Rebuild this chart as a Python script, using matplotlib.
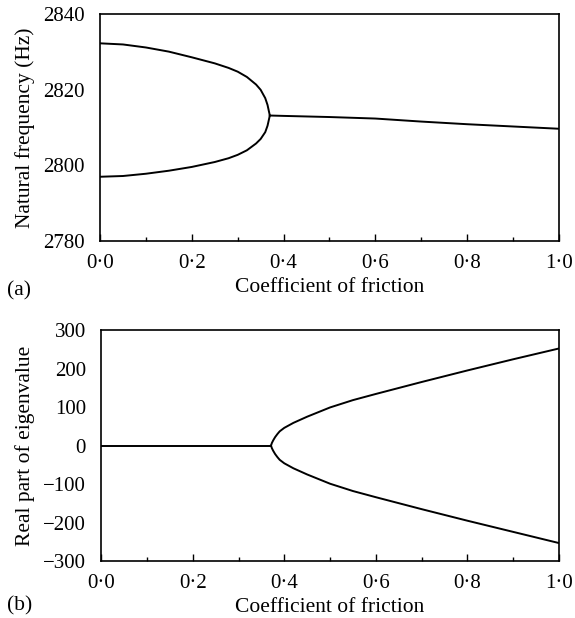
import numpy as np
import matplotlib
matplotlib.use('Agg')
import matplotlib.pyplot as plt
from matplotlib.ticker import MultipleLocator, FuncFormatter

plt.rcParams['font.family'] = ['Liberation Serif', 'DejaVu Serif']

# (a) natural frequency branches
mu_split = [0.0, 0.05, 0.1, 0.15, 0.2, 0.25, 0.28, 0.3, 0.32, 0.34, 0.35, 0.36, 0.365, 0.37]
freq_upper = [2832.3, 2832.0, 2831.2, 2830.1, 2828.6, 2827.0, 2825.8, 2824.8, 2823.4, 2821.4, 2820.0, 2817.8, 2816.0, 2813.2]
freq_lower = [2797.0, 2797.2, 2797.8, 2798.6, 2799.6, 2800.9, 2801.9, 2802.8, 2804.0, 2805.8, 2807.0, 2808.8, 2810.5, 2813.2]
mu_merged = [0.37, 0.4, 0.5, 0.6, 0.7, 0.8, 0.9, 1.0]
freq_merged = [2813.2, 2813.1, 2812.8, 2812.4, 2811.6, 2810.9, 2810.3, 2809.7]

# (b) real part of eigenvalue
mu_zero = [0.0, 0.2, 0.371]
re_zero = [0, 0, 0]
mu_unstable = [0.371, 0.373, 0.376, 0.38, 0.385, 0.39, 0.4, 0.42, 0.45, 0.5, 0.55, 0.6, 0.7, 0.8, 0.9, 1.0]
re_upper = [0, 7, 14, 22, 30, 37, 46, 59, 75, 99, 118, 134, 165, 195, 224, 252]
re_lower = [0, -7, -14, -22, -30, -37, -46, -59, -75, -99, -118, -134, -165, -195, -224, -253]

fig = plt.figure(figsize=(5.75, 6.18), dpi=100)
ax1 = fig.add_axes([0.174, 0.610, 0.798, 0.367])
ax2 = fig.add_axes([0.176, 0.092, 0.796, 0.374])

dotfmt = FuncFormatter(lambda v, p: ('%.1f' % v).replace('.', '\u00b7'))

ax1.plot(mu_split, freq_upper, color='black', lw=1.4)
ax1.plot(mu_split, freq_lower, color='black', lw=1.4)
ax1.plot(mu_merged, freq_merged, color='black', lw=1.4)
ax1.set_xlim(0, 1)
ax1.set_ylim(2780, 2840)
ax1.set_yticks([2780, 2800, 2820, 2840])
ax1.set_ylabel('Natural frequency (Hz)', fontsize=15.5)
ax1.set_xlabel('Coefficient of friction', fontsize=15.5)

ax2.plot(mu_zero, re_zero, color='black', lw=1.4)
ax2.plot(mu_unstable, re_upper, color='black', lw=1.4)
ax2.plot(mu_unstable, re_lower, color='black', lw=1.4)
ax2.set_xlim(0, 1)
ax2.set_ylim(-300, 300)
ax2.set_yticks(np.arange(-300, 301, 100))
ax2.set_yticklabels(['\u2212300', '\u2212200', '\u2212100', '0', '100', '200', '300'])
ax2.set_ylabel('Real part of eigenvalue', fontsize=15.5)
ax2.set_xlabel('Coefficient of friction', fontsize=15.5)

for ax in (ax1, ax2):
    ax.xaxis.set_major_locator(MultipleLocator(0.2))
    ax.xaxis.set_minor_locator(MultipleLocator(0.1))
    ax.xaxis.set_major_formatter(dotfmt)
    ax.tick_params(axis='both', which='major', direction='in', length=5, labelsize=15, width=1)
    ax.tick_params(axis='x', which='minor', direction='in', length=3, width=1)
    ax.tick_params(axis='y', which='major', length=0, pad=11)
    ax.tick_params(axis='x', pad=9)
    for s in ax.spines.values():
        s.set_linewidth(1.2)
    ax.xaxis.labelpad = 4
    ax.yaxis.labelpad = 6

fig.text(0.012, 0.522, '(a)', fontsize=15.5)
fig.text(0.012, 0.012, '(b)', fontsize=15.5)

fig.savefig('out.png', dpi=100)
